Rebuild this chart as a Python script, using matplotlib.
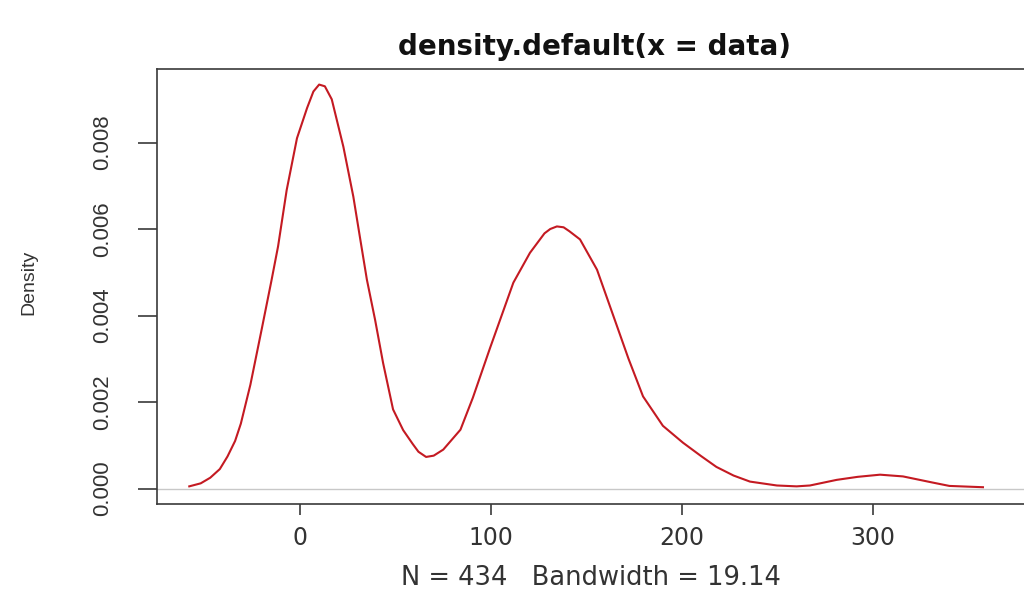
import matplotlib
matplotlib.use("Agg")
import matplotlib.pyplot as plt

# Density curve
x_vals = [-58, -52, -47, -42, -38, -34, -31, -26, -20, -15, -11.5, -7, -1.6, 3.7, 7, 10,
          13, 16.6, 22.7, 27.9, 31.4, 35, 39.3, 43.5, 48.7, 54, 59, 62, 66, 70, 75, 84,
          90.5, 99.5, 111.7, 120.4, 128, 131, 134.5, 138, 141, 146.6, 155.5, 166, 172,
          179.6, 190, 200.5, 210, 218, 227, 235.6, 249.7, 260, 267, 281, 292, 303.7,
          315.7, 331, 340, 357.6]
density_e3 = [0.05, 0.12, 0.25, 0.45, 0.74, 1.1, 1.5, 2.4, 3.7, 4.8, 5.6, 6.9, 8.1, 8.8, 9.18, 9.34,
              9.3, 9.0, 7.9, 6.75, 5.8, 4.83, 3.9, 2.9, 1.83, 1.35, 1.03, 0.85, 0.73, 0.76, 0.9, 1.36,
              2.1, 3.25, 4.76, 5.45, 5.9, 6.0, 6.06, 6.04, 5.95, 5.76, 5.06, 3.75, 3.0,
              2.13, 1.45, 1.06, 0.75, 0.5, 0.3, 0.16, 0.07, 0.05, 0.07, 0.2, 0.27, 0.32,
              0.28, 0.14, 0.06, 0.03]
y_vals = [v / 1000.0 for v in density_e3]

x_ticks = [0, 100, 200, 300]
y_ticks = [0.000, 0.002, 0.004, 0.006, 0.008]
y_tick_labels = ["0.000", "0.002", "0.004", "0.006", "0.008"]

title = "density.default(x = data)"
x_label = "N = 434   Bandwidth = 19.14"
y_label = "Density"

W, H = 1024, 593
fig = plt.figure(figsize=(W / 100, H / 100), dpi=100)
fig.patch.set_facecolor("white")

left_px, right_px, top_px, bottom_px = 157, 1033, 69, 504
ax = fig.add_axes([left_px / W, 1 - bottom_px / H,
                   (right_px - left_px) / W, (bottom_px - top_px) / H])

ax.axhline(0, color="#c8c8c8", lw=1.0, zorder=1)
ax.plot(x_vals, y_vals, color="#c41a22", lw=1.5, zorder=2,
        solid_joinstyle="round", antialiased=True)

ax.set_xlim(-74.9, 383.8)
ax.set_ylim(-0.000358, 0.0097)

for side in ["left", "bottom", "top"]:
    ax.spines[side].set_color("#3a3a3a")
    ax.spines[side].set_linewidth(1.2)
ax.spines["right"].set_visible(False)

ax.set_xticks(x_ticks)
ax.set_xticklabels([str(t) for t in x_ticks], fontfamily="DejaVu Sans", fontsize=17,
                   color="#333333")
ax.tick_params(axis="x", length=8, width=1.2, color="#3a3a3a", pad=8)

ax.set_yticks(y_ticks)
ax.set_yticklabels(y_tick_labels, fontfamily="Liberation Sans", fontsize=16,
                   color="#333333", rotation=90, va="center")
ax.tick_params(axis="y", length=13.7, width=1.2, color="#3a3a3a", pad=18)

ax.set_xlabel(x_label, fontfamily="DejaVu Sans", fontsize=18.5, color="#333333")
ax.xaxis.set_label_coords(0.495, -0.14)
ax.set_ylabel(y_label, fontfamily="Liberation Sans", fontsize=14, color="#333333")
ax.yaxis.set_label_coords(-0.136, 0.51)

fig.text(595 / W, 1 - 47 / H, title, ha="center", va="center",
         fontfamily="DejaVu Sans", fontweight="bold", fontsize=20, color="#111111")

fig.savefig("out.png", dpi=100)
